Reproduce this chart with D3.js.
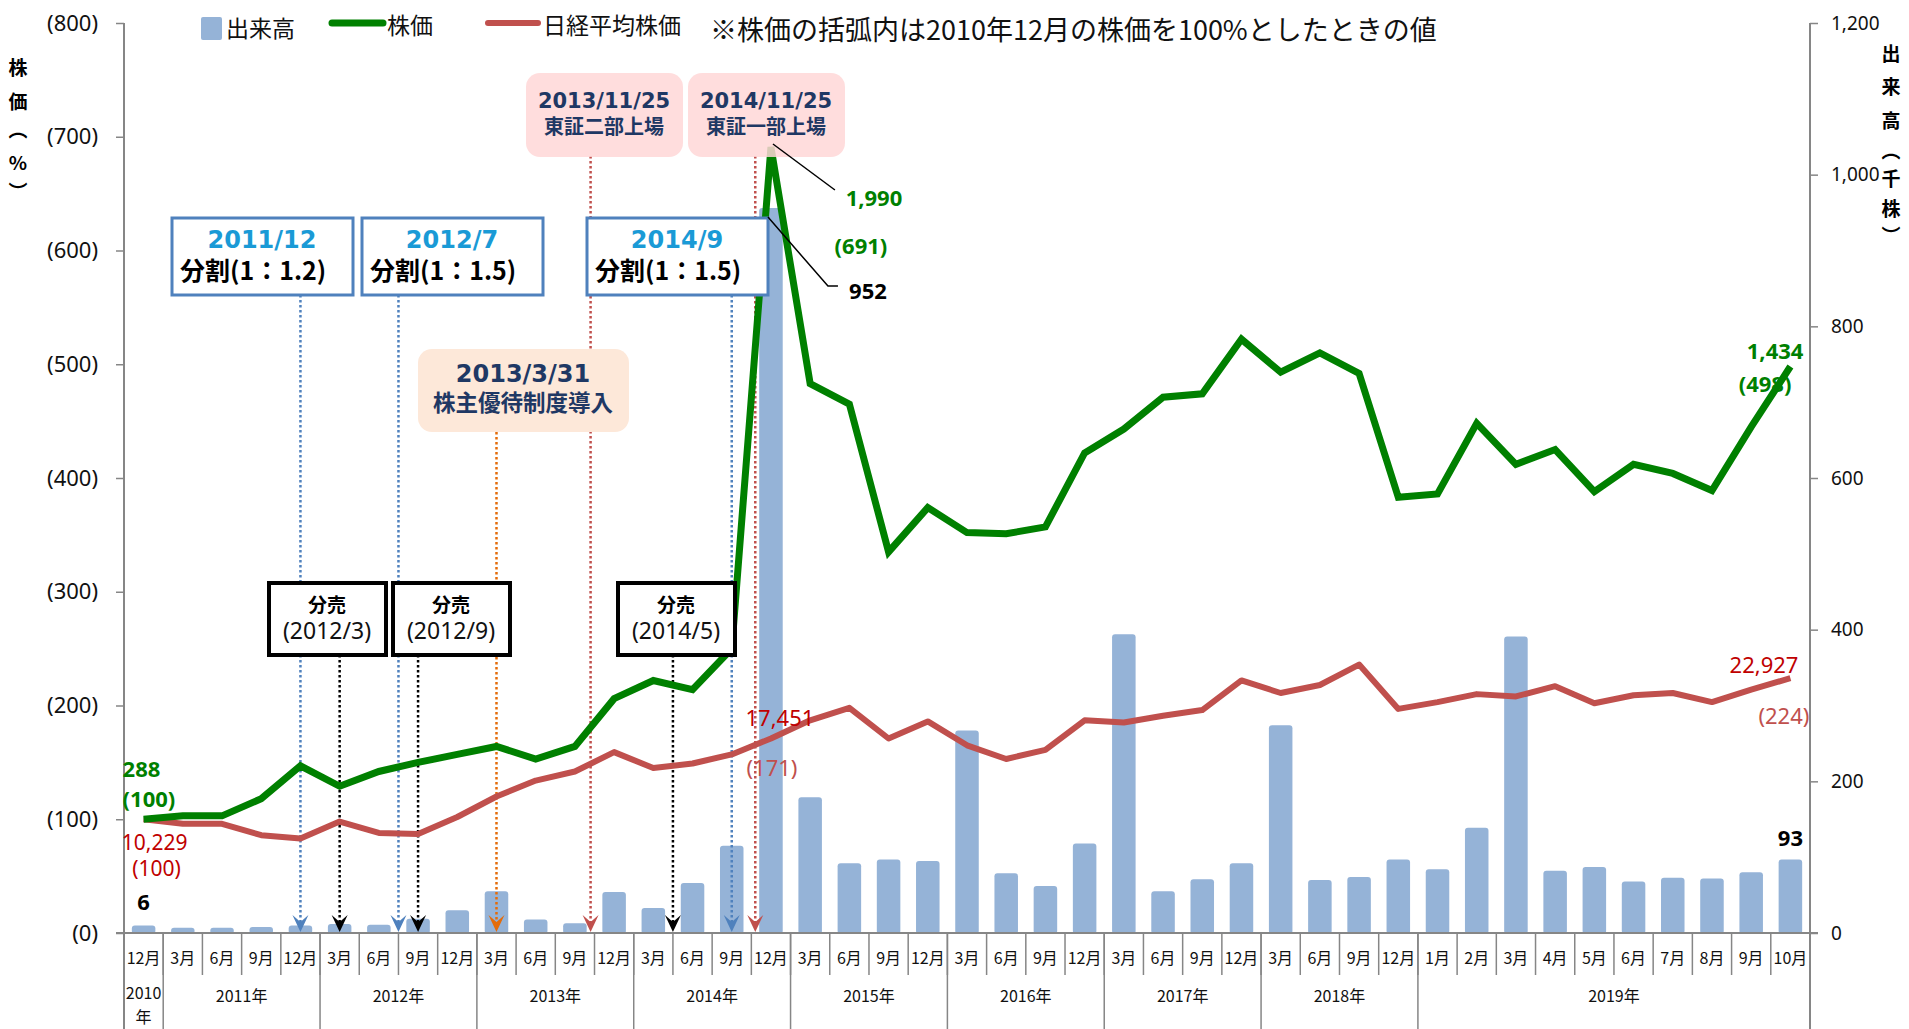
<!DOCTYPE html>
<html>
<head>
<meta charset="utf-8">
<script src="https://cdn.jsdelivr.net/npm/d3@7"></script>
<style>
body { margin: 0; background: #fff; }
svg { display: block; }
</style>
</head>
<body>
<svg width="1909" height="1029"></svg>
<script>
// ---- data ----
var months = ["12月",
  "3月","6月","9月","12月",
  "3月","6月","9月","12月",
  "3月","6月","9月","12月",
  "3月","6月","9月","12月",
  "3月","6月","9月","12月",
  "3月","6月","9月","12月",
  "3月","6月","9月","12月",
  "3月","6月","9月","12月",
  "1月","2月","3月","4月","5月","6月","7月","8月","9月","10月"];
var yearLabels = ["2010年","2011年","2012年","2013年","2014年","2015年","2016年","2017年","2018年","2019年"];
var yearSpans = [1,4,4,4,4,4,4,4,4,10];

// 出来高 (千株)
var volume = [6,3,3,4,6,8,7,15,26,51,14,9,50,29,62,111,952,175,88,93,91,263,75,58,114,390,51,67,88,270,66,70,93,80,135,387,78,83,64,69,68,76,93];
// 株価 (2010年12月 = 100%)
var price = [100,103,103,118,147,129,142,150,157,164,153,164,206,222,214,250,691,483,465,335,374,352,351,357,422,443,471,474,522,493,510,492,383,386,448,412,425,388,412,404,389,445,498];
// 日経平均株価 (2010年12月 = 100%)
var nikkei = [100,96,96,86,83,98,88,87,102,120,134,142,159,145,149,157,171,187,198,171,186,165,153,161,187,185,191,196,222,211,218,236,197,203,210,208,217,202,209,211,203,214,224];

var priceTicks = [0,100,200,300,400,500,600,700,800];
var volumeTicks = [0,200,400,600,800,1000,1200];

// labelled points: index, yen value
var labelIdx = [0,16,42];
var priceYen = [288,1990,1434];
var nikkeiYen = [10229,17451,22927];

// events (position in category units)
var splitDates = ["2011/12","2012/7","2014/9"];
var splitRatios = ["分割(1：1.2)","分割(1：1.5)","分割(1：1.5)"];
var splitAt = [4,6.5,15];
var saleDates = ["(2012/3)","(2012/9)","(2014/5)"];
var saleAt = [5,7,13.5];
var listDates = ["2013/11/25","2014/11/25"];
var listNames = ["東証二部上場","東証一部上場"];
var listAt = [11.4,15.6];
var perkDate = "2013/3/31";
var perkName = "株主優待制度導入";
var perkAt = 9;

// ---- layout ----
var svg = d3.select("svg");
var plotLeft = 124, plotRight = 1810, plotTop = 23, plotBottom = 933;
var jp = "'Noto Sans CJK JP', sans-serif";
var num = "'Noto Sans', 'Noto Sans CJK JP', sans-serif";
var verd = "'DejaVu Sans', sans-serif";
var axisGrey = "#868686";
var green = "#008000", red = "#c0504d", darkRed = "#c00000", barBlue = "#95b3d7";

var x = d3.scaleBand().domain(d3.range(months.length)).range([plotLeft, plotRight])
  .paddingInner(0.4).paddingOuter(0.2);
var step = x.step();
function cx(v) { return plotLeft + step * (v + 0.5); }
var yP = d3.scaleLinear().domain([0, 800]).range([plotBottom, plotTop]);
var yV = d3.scaleLinear().domain([0, 1200]).range([plotBottom, plotTop]);

// bars
svg.append("g").selectAll("rect").data(volume).join("rect")
  .attr("x", function (d, i) { return x(i); })
  .attr("y", function (d) { return yV(d) - 3; })
  .attr("width", x.bandwidth())
  .attr("height", function (d) { return plotBottom + 1 - yV(d) + 3; })
  .attr("rx", 3)
  .attr("fill", barBlue);

// axes
var leftAxis = svg.append("g").attr("transform", "translate(" + plotLeft + ",0)")
  .call(d3.axisLeft(yP).tickValues(priceTicks).tickSize(8).tickSizeOuter(0).tickPadding(18)
    .tickFormat(function (d) { return "(" + d + ")"; }));
var rightAxis = svg.append("g").attr("transform", "translate(" + plotRight + ",0)")
  .call(d3.axisRight(yV).tickValues(volumeTicks).tickSize(8).tickSizeOuter(0).tickPadding(13)
    .tickFormat(d3.format(",")));
[leftAxis, rightAxis].forEach(function (g) {
  g.select(".domain").remove();
  g.selectAll("line").attr("stroke", axisGrey).attr("stroke-width", 1.5);
  g.selectAll("text").attr("font-family", num).attr("fill", "#111");
});
leftAxis.selectAll("text").attr("font-size", 22);
rightAxis.selectAll("text").attr("font-size", 19);

var frame = svg.append("g").attr("stroke", axisGrey).attr("stroke-width", 2);
frame.append("line").attr("x1", plotLeft).attr("x2", plotLeft).attr("y1", plotTop).attr("y2", 1029);
frame.append("line").attr("x1", plotRight).attr("x2", plotRight).attr("y1", plotTop).attr("y2", 1029);
frame.append("line").attr("x1", plotLeft - 8).attr("x2", plotRight + 8).attr("y1", plotBottom).attr("y2", plotBottom);

// category axis: months and years
var cat = svg.append("g");
cat.selectAll("line.m").data(d3.range(1, months.length)).join("line")
  .attr("class", "m")
  .attr("x1", function (i) { return plotLeft + step * i; })
  .attr("x2", function (i) { return plotLeft + step * i; })
  .attr("y1", plotBottom).attr("y2", 975)
  .attr("stroke", axisGrey).attr("stroke-width", 1.5);
cat.selectAll("text.m").data(months).join("text")
  .attr("class", "m")
  .attr("x", function (d, i) { return x(i) + x.bandwidth() / 2; })
  .attr("y", 957)
  .attr("text-anchor", "middle").attr("dominant-baseline", "central")
  .attr("font-family", jp).attr("font-size", 16).attr("fill", "#111")
  .text(function (d) { return d; });

var yearStart = d3.cumsum([0].concat(yearSpans));
cat.selectAll("line.y").data(yearStart.slice(1, -1)).join("line")
  .attr("class", "y")
  .attr("x1", function (k) { return plotLeft + step * k; })
  .attr("x2", function (k) { return plotLeft + step * k; })
  .attr("y1", plotBottom).attr("y2", 1029)
  .attr("stroke", axisGrey).attr("stroke-width", 1.5);
yearLabels.forEach(function (lab, j) {
  var mid = plotLeft + step * (yearStart[j] + yearSpans[j] / 2);
  var t = cat.append("text").attr("x", mid).attr("text-anchor", "middle")
    .attr("font-family", jp).attr("font-size", 16).attr("fill", "#111");
  if (yearSpans[j] === 1) {
    t.append("tspan").attr("x", mid).attr("y", 999).text(lab.replace("年", ""));
    t.append("tspan").attr("x", mid).attr("y", 1023).text("年");
  } else {
    t.attr("y", 1002).text(lab);
  }
});

// event markers: dotted arrows down to the axis
function marker(at, yStart, color) {
  var ax = cx(at), ay = plotBottom - 1;
  svg.append("line").attr("x1", ax).attr("x2", ax).attr("y1", yStart).attr("y2", ay - 10)
    .attr("stroke", color).attr("stroke-width", 2.5).attr("stroke-dasharray", "2.5,2.5");
  svg.append("path")
    .attr("d", "M" + (ax - 8) + "," + (ay - 17) + "L" + ax + "," + ay + "L" + (ax + 8) + "," + (ay - 17) + "L" + ax + "," + (ay - 10) + "Z")
    .attr("fill", color);
}
splitAt.forEach(function (a) { marker(a, 295, "#4f81bd"); });
saleAt.forEach(function (a) { marker(a, 655, "#000"); });
listAt.forEach(function (a) { marker(a, 156, red); });
marker(perkAt, 432, "#e46c0a");

// lines
var line = d3.line()
  .x(function (d, i) { return x(i) + x.bandwidth() / 2; })
  .y(function (d) { return yP(d); });
svg.append("path").datum(nikkei).attr("d", line)
  .attr("fill", "none").attr("stroke", red).attr("stroke-width", 6).attr("stroke-linejoin", "round");
svg.append("path").datum(price).attr("d", line)
  .attr("fill", "none").attr("stroke", green).attr("stroke-width", 7);

// annotation boxes
var splitBoxX = [172, 362, 587];
splitDates.forEach(function (d, k) {
  var bx = splitBoxX[k];
  svg.append("rect").attr("x", bx).attr("y", 218).attr("width", 181).attr("height", 77)
    .attr("fill", "#fff").attr("stroke", "#4f81bd").attr("stroke-width", 3);
  svg.append("text").attr("x", bx + 90).attr("y", 240).attr("text-anchor", "middle").attr("dominant-baseline", "central")
    .attr("font-family", verd).attr("font-weight", "bold").attr("font-size", 24).attr("fill", "#1a9ad6").text(d);
  svg.append("text").attr("x", bx + 8).attr("y", 269).attr("dominant-baseline", "central")
    .attr("font-family", jp).attr("font-weight", "bold").attr("font-size", 25).attr("fill", "#000").text(splitRatios[k]);
});

var saleBoxX = [269, 393, 618];
saleDates.forEach(function (d, k) {
  var bx = saleBoxX[k];
  svg.append("rect").attr("x", bx).attr("y", 583).attr("width", 117).attr("height", 72)
    .attr("fill", "#fff").attr("stroke", "#000").attr("stroke-width", 4);
  svg.append("text").attr("x", bx + 58).attr("y", 603).attr("text-anchor", "middle").attr("dominant-baseline", "central")
    .attr("font-family", jp).attr("font-weight", "bold").attr("font-size", 19).text("分売");
  svg.append("text").attr("x", bx + 58).attr("y", 630).attr("text-anchor", "middle").attr("dominant-baseline", "central")
    .attr("font-family", num).attr("font-size", 23).attr("fill", "#111").text(d);
});

svg.append("rect").attr("x", 418).attr("y", 349).attr("width", 211).attr("height", 83).attr("rx", 14)
  .attr("fill", "#fde8d9");
svg.append("text").attr("x", 523).attr("y", 374).attr("text-anchor", "middle").attr("dominant-baseline", "central")
  .attr("font-family", verd).attr("font-weight", "bold").attr("font-size", 24).attr("fill", "#1f3864").text(perkDate);
svg.append("text").attr("x", 523).attr("y", 401).attr("text-anchor", "middle").attr("dominant-baseline", "central")
  .attr("font-family", jp).attr("font-weight", "bold").attr("font-size", 22.5).attr("fill", "#1f3864").text(perkName);

var listBoxX = [526, 688];
listDates.forEach(function (d, k) {
  var bx = listBoxX[k];
  svg.append("rect").attr("x", bx).attr("y", 73).attr("width", 157).attr("height", 84).attr("rx", 14)
    .attr("fill", "#ffd7d7").attr("fill-opacity", 0.85);
  svg.append("text").attr("x", bx + 78).attr("y", 101).attr("text-anchor", "middle").attr("dominant-baseline", "central")
    .attr("font-family", verd).attr("font-weight", "bold").attr("font-size", 21).attr("fill", "#1f3864").text(d);
  svg.append("text").attr("x", bx + 78).attr("y", 125).attr("text-anchor", "middle").attr("dominant-baseline", "central")
    .attr("font-family", jp).attr("font-weight", "bold").attr("font-size", 20).attr("fill", "#1f3864").text(listNames[k]);
});

// data labels
var fmt = d3.format(",");
function label(px, py, txt, color, bold, anchor, size) {
  svg.append("text").attr("x", px).attr("y", py).attr("dominant-baseline", "central")
    .attr("text-anchor", anchor).attr("font-family", num).attr("font-size", size || 22)
    .attr("font-weight", bold ? "bold" : "normal").attr("fill", color).text(txt);
}
var i0 = labelIdx[0], i1 = labelIdx[1], i2 = labelIdx[2];
// first point
label(cx(i0) - 21, yP(price[i0]) - 51, fmt(priceYen[0]), green, true, "start");
label(cx(i0) - 21, yP(price[i0]) - 21, "(" + price[i0] + ")", green, true, "start");
label(cx(i0) + 11, yP(nikkei[i0]) + 23, fmt(nikkeiYen[0]), darkRed, false, "middle", 21);
label(cx(i0) + 13, yP(nikkei[i0]) + 49, "(" + nikkei[i0] + ")", darkRed, false, "middle", 21);
label(cx(i0), yV(volume[i0]) - 27, fmt(volume[i0]), "#000", true, "middle");
// 2014/12 peak
label(cx(i1) + 9, yP(nikkei[i1]) - 21, fmt(nikkeiYen[1]), darkRed, false, "middle");
label(cx(i1) + 1, yP(nikkei[i1]) + 29, "(" + nikkei[i1] + ")", red, false, "middle");
svg.append("line").attr("x1", cx(i1) + 2).attr("y1", yP(price[i1]) - 3).attr("x2", cx(i1) + 64).attr("y2", yP(price[i1]) + 43)
  .attr("stroke", "#000").attr("stroke-width", 1.5);
label(cx(i1) + 103, yP(price[i1]) + 50, fmt(priceYen[1]), green, true, "middle");
label(cx(i1) + 90, yP(price[i1]) + 98, "(" + price[i1] + ")", green, true, "middle");
svg.append("path")
  .attr("d", "M" + (cx(i1) - 3) + "," + (yV(volume[i1]) + 6) + "L" + (cx(i1) + 57) + "," + (yV(volume[i1]) + 75) + "H" + (cx(i1) + 67))
  .attr("fill", "none").attr("stroke", "#000").attr("stroke-width", 1.5);
label(cx(i1) + 97, yV(volume[i1]) + 79, fmt(volume[i1]), "#000", true, "middle");
// last point
label(cx(i2) + 13, yP(price[i2]) - 17, fmt(priceYen[2]), green, true, "end");
label(cx(i2) + 1, yP(price[i2]) + 16, "(" + price[i2] + ")", green, true, "end");
label(cx(i2) + 8, yP(nikkei[i2]) - 14, fmt(nikkeiYen[2]), darkRed, false, "end");
label(cx(i2) + 19, yP(nikkei[i2]) + 37, "(" + nikkei[i2] + ")", red, false, "end");
label(cx(i2), yV(volume[i2]) - 25, fmt(volume[i2]), "#000", true, "middle");

// axis titles (vertical)
var leftTitle = ["株", "価", "︵", "%", "︶"];
var leftTitleY = [66, 100, 128, 161, 190];
leftTitle.forEach(function (c, k) {
  svg.append("text").attr("x", 18).attr("y", leftTitleY[k]).attr("text-anchor", "middle").attr("dominant-baseline", "central")
    .attr("font-family", jp).attr("font-weight", "bold").attr("font-size", 19).text(c);
});
var rightTitle = ["出", "来", "高", "︵", "千", "株", "︶"];
var rightTitleY = [52, 85, 119, 149, 177, 207, 234];
rightTitle.forEach(function (c, k) {
  svg.append("text").attr("x", 1891).attr("y", rightTitleY[k]).attr("text-anchor", "middle").attr("dominant-baseline", "central")
    .attr("font-family", jp).attr("font-weight", "bold").attr("font-size", 19).text(c);
});

// legend
var lg = svg.append("g").attr("font-family", jp).attr("font-size", 23).attr("fill", "#111");
lg.append("rect").attr("x", 201).attr("y", 17).attr("width", 21).attr("height", 23).attr("rx", 2).attr("fill", barBlue);
lg.append("text").attr("x", 226).attr("y", 27).attr("dominant-baseline", "central").text("出来高");
lg.append("line").attr("x1", 332).attr("x2", 383).attr("y1", 23).attr("y2", 23)
  .attr("stroke", green).attr("stroke-width", 7).attr("stroke-linecap", "round");
lg.append("text").attr("x", 387).attr("y", 24).attr("dominant-baseline", "central").text("株価");
lg.append("line").attr("x1", 488).attr("x2", 538).attr("y1", 23).attr("y2", 23)
  .attr("stroke", red).attr("stroke-width", 6).attr("stroke-linecap", "round");
lg.append("text").attr("x", 543).attr("y", 24).attr("dominant-baseline", "central").text("日経平均株価");
lg.append("text").attr("x", 710).attr("y", 28).attr("dominant-baseline", "central").attr("font-size", 27)
  .text("※株価の括弧内は2010年12月の株価を100%としたときの値");
</script>
</body>
</html>
